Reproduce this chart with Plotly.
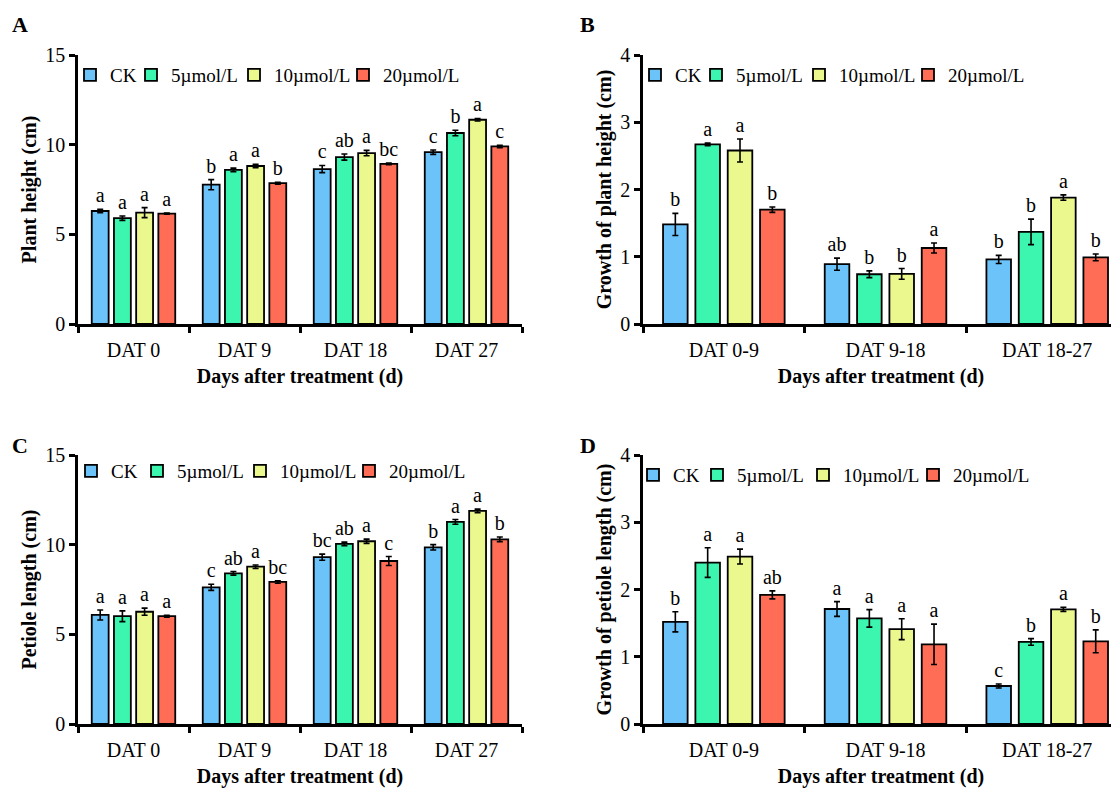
import plotly.graph_objects as go

# ---------------- data ----------------
treatments = ["CK", "5µmol/L", "10µmol/L", "20µmol/L"]
colors = ["#6CC3FA", "#3CF5AE", "#EBF88E", "#FF6D57"]

days = ["DAT 0", "DAT 9", "DAT 18", "DAT 27"]
periods = ["DAT 0-9", "DAT 9-18", "DAT 18-27"]

# A: plant height (cm)
height_mean = [
    [6.30, 7.77, 8.64, 9.58],
    [5.90, 8.59, 9.31, 10.65],
    [6.21, 8.81, 9.53, 11.39],
    [6.15, 7.85, 8.93, 9.90],
]
height_err = [
    [0.10, 0.28, 0.20, 0.12],
    [0.12, 0.10, 0.17, 0.15],
    [0.28, 0.10, 0.15, 0.07],
    [0.03, 0.05, 0.05, 0.07],
]
height_sig = [
    ["a", "b", "c", "c"],
    ["a", "a", "ab", "b"],
    ["a", "a", "a", "a"],
    ["a", "b", "bc", "c"],
]

# B: growth of plant height (cm)
hgrowth_mean = [
    [1.48, 0.89, 0.96],
    [2.67, 0.74, 1.37],
    [2.58, 0.745, 1.88],
    [1.70, 1.13, 0.99],
]
hgrowth_err = [
    [0.165, 0.09, 0.06],
    [0.02, 0.05, 0.19],
    [0.17, 0.08, 0.04],
    [0.04, 0.075, 0.05],
]
hgrowth_sig = [
    ["b", "ab", "b"],
    ["a", "b", "b"],
    ["a", "b", "a"],
    ["b", "a", "b"],
]

# C: petiole length (cm)
petiole_mean = [
    [6.08, 7.62, 9.30, 9.85],
    [6.01, 8.40, 10.04, 11.27],
    [6.26, 8.77, 10.19, 11.88],
    [6.01, 7.92, 9.09, 10.30],
]
petiole_err = [
    [0.28, 0.17, 0.17, 0.15],
    [0.30, 0.10, 0.10, 0.13],
    [0.20, 0.10, 0.12, 0.10],
    [0.05, 0.07, 0.25, 0.13],
]
petiole_sig = [
    ["a", "c", "bc", "b"],
    ["a", "ab", "ab", "a"],
    ["a", "a", "a", "a"],
    ["a", "bc", "c", "b"],
]

# D: growth of petiole length (cm)
pgrowth_mean = [
    [1.52, 1.71, 0.565],
    [2.40, 1.57, 1.22],
    [2.49, 1.41, 1.705],
    [1.92, 1.185, 1.23],
]
pgrowth_err = [
    [0.15, 0.11, 0.03],
    [0.22, 0.13, 0.05],
    [0.11, 0.155, 0.03],
    [0.06, 0.30, 0.17],
]
pgrowth_sig = [
    ["b", "a", "c"],
    ["a", "a", "b"],
    ["a", "a", "a"],
    ["ab", "a", "b"],
]

# ---------------- figure ----------------
FONT = "Liberation Serif"
PAGE_W, PAGE_H = 1119, 789
BODY = 8                      # default page margin around the plot div
W, H = PAGE_W - BODY, PAGE_H - BODY


def px_x(p):
    return (p - BODY) / W


def px_y(p):
    return 1 - (p - BODY) / H


fig = go.Figure()

panels = [
    (days, height_mean, height_err, height_sig, ""),
    (periods, hgrowth_mean, hgrowth_err, hgrowth_sig, "2"),
    (days, petiole_mean, petiole_err, petiole_sig, "3"),
    (periods, pgrowth_mean, pgrowth_err, pgrowth_sig, "4"),
]


def legend_id(k):
    return "legend" if k == 0 else "legend%d" % (k + 1)


for p, (cats, mean, err, sig, sfx) in enumerate(panels):
    xa, ya = "x" + sfx, "y" + sfx
    for i, name in enumerate(treatments):
        fig.add_trace(go.Bar(
            x=cats, y=mean[i], name=name,
            marker=dict(color=colors[i], line=dict(color="black", width=1.8)),
            error_y=dict(type="data", array=err[i], visible=True,
                         color="black", thickness=1.6, width=3),
            offsetgroup=str(i), xaxis=xa, yaxis=ya,
            legend=legend_id(p * 4 + i),
            hoverinfo="skip",
        ))
        # invisible bar reaching the top of the error bar, carrying the letters
        tops = [m + e for m, e in zip(mean[i], err[i])]
        fig.add_trace(go.Bar(
            x=cats, y=tops, text=sig[i], textposition="outside",
            textangle=0, constraintext="none", cliponaxis=False,
            outsidetextfont=dict(family=FONT, size=20, color="black"),
            marker=dict(color="rgba(0,0,0,0)", line=dict(width=0)),
            offsetgroup=str(i), xaxis=xa, yaxis=ya, showlegend=False,
            hoverinfo="skip",
        ))

tick_font = dict(family=FONT, size=20, color="black")
title_font = dict(family=FONT, size=20, color="black", weight="bold")


def xaxis(domain, anchor, rng):
    return dict(
        domain=domain, anchor=anchor, type="category", range=rng,
        automargin=False,
        showline=True, linecolor="black", linewidth=2.5,
        ticks="outside", tickson="boundaries", ticklen=6, tickwidth=2.5,
        tickcolor="black", showgrid=False, zeroline=False,
        tickfont=tick_font, ticklabelstandoff=6,
        title=dict(text="Days after treatment (d)", font=title_font, standoff=10),
    )


def yaxis(domain, anchor, rng, dtick, title):
    return dict(
        domain=domain, anchor=anchor, range=rng, dtick=dtick,
        automargin=False,
        showline=True, linecolor="black", linewidth=2.5,
        ticks="outside", ticklen=6, tickwidth=2.5, tickcolor="black",
        showgrid=False, zeroline=False, tickfont=tick_font,
        title=dict(text=title, font=title_font, standoff=4),
    )


xl = [px_x(78), px_x(522)]
xr = [px_x(643), 1.0]
yt = [px_y(324), px_y(55)]
yb = [px_y(724), px_y(455)]
xr_range = [-0.5, 2.444]

fig.update_layout(
    template="none",
    width=W, height=H, autosize=False,
    margin=dict(l=0, r=0, t=0, b=0, pad=0, autoexpand=False),
    paper_bgcolor="white", plot_bgcolor="white",
    barmode="group", bargap=0.2, bargroupgap=0.24,
    font=dict(family=FONT, color="black"),
    xaxis=xaxis(xl, "y", [-0.5, 3.5]),
    yaxis=yaxis(yt, "x", [0, 15], 5, "Plant height (cm)"),
    xaxis2=xaxis(xr, "y2", xr_range),
    yaxis2=yaxis(yt, "x2", [0, 4], 1, "Growth of plant height (cm)"),
    xaxis3=xaxis(xl, "y3", [-0.5, 3.5]),
    yaxis3=yaxis(yb, "x3", [0, 15], 5, "Petiole length (cm)"),
    xaxis4=xaxis(xr, "y4", xr_range),
    yaxis4=yaxis(yb, "x4", [0, 4], 1, "Growth of petiole length (cm)"),
)

# legend entries: symbol left edge (page px) per panel, and row centre
legend_sym_left = [
    [84, 145, 248, 357],
    [649, 710, 813, 922],
    [85, 151, 254, 363],
    [647, 711, 817, 927],
]
legend_row_y = [75, 75, 471, 475]

legend_style = dict(orientation="h", xanchor="left", yanchor="middle",
                    font=dict(family=FONT, size=19, color="black"),
                    bgcolor="rgba(0,0,0,0)", borderwidth=0, itemwidth=30)
legends = {}
for p in range(4):
    for i in range(4):
        legends[legend_id(p * 4 + i)] = dict(
            x=px_x(legend_sym_left[p][i] - 14), y=px_y(legend_row_y[p]),
            **legend_style)
fig.update_layout(**legends)

labels = [("A", 10, 24), ("B", 578, 24), ("C", 10, 445), ("D", 578, 445)]
for txt, lx, ly in labels:
    fig.add_annotation(
        text=txt, x=px_x(lx), y=px_y(ly), xref="paper", yref="paper",
        xanchor="left", yanchor="middle", showarrow=False,
        font=dict(family=FONT, size=22, color="black", weight="bold"),
    )

fig.write_html("out.html")
